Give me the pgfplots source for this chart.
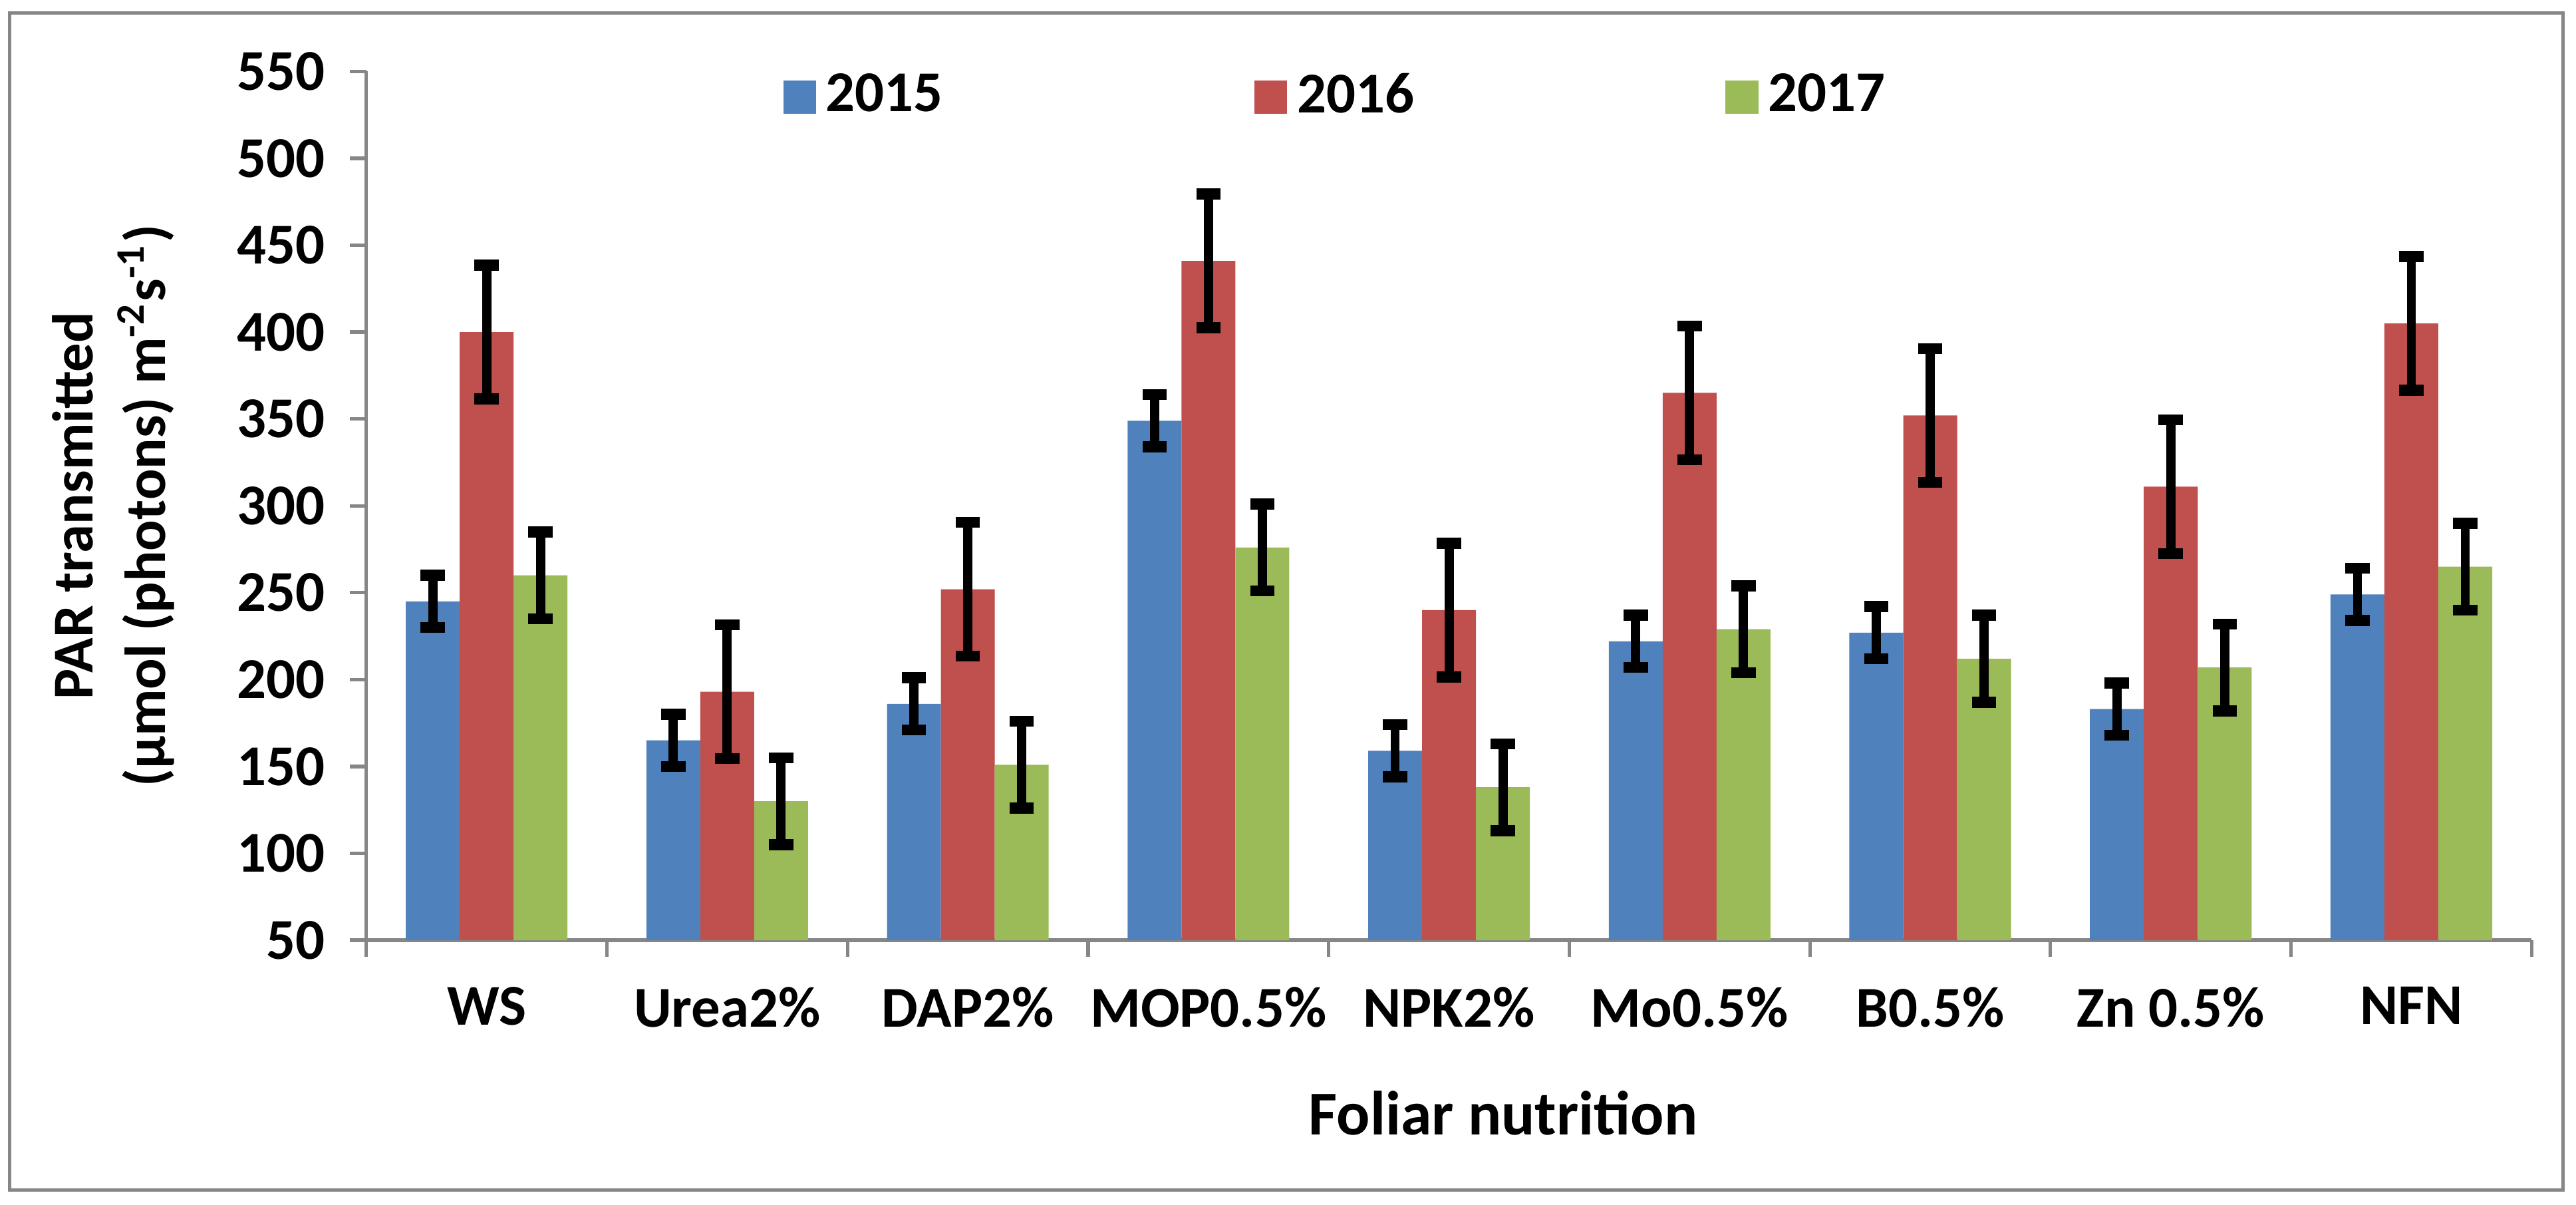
\documentclass[border=0pt]{standalone}
\usepackage{fontspec}
\setmainfont{Carlito}
\usepackage{pgfplots}
\usepackage{pgfplotstable}
\pgfplotsset{compat=1.18}
\usetikzlibrary{calc}

\definecolor{c15}{HTML}{4F81BD}
\definecolor{c16}{HTML}{C0504D}
\definecolor{c17}{HTML}{9BBB59}
\definecolor{axgray}{HTML}{868686}

% value and error per year
\pgfplotstableread{
x y15 e15 y16 e16 y17 e17
0 245 15 400 38.5 260 25
1 165 15 193 38.5 130 25
2 186 15 252 38.5 151 25
3 349 15 441 38.5 276 25
4 159 15 240 38.5 138 25
5 222 15 365 38.5 229 25
6 227 15 352 38.5 212 25
7 183 15 311 38.5 207 25
8 249 15 405 38.5 265 25
}\partable

\begin{document}
\begin{tikzpicture}[font=\fontsize{10}{12.5}\selectfont\bfseries]
\begin{axis}[name=ax,
    scale only axis, width=131.8mm, height=52.86mm,
    xmin=-0.5, xmax=8.5, ymin=50, ymax=550,
    ytick={50,100,...,550},
    axis x line*=bottom, axis y line*=left,
    axis line style={axgray, line width=0.6pt},
    ybar, bar width=0.224,
    xtick={0,...,8},
    xticklabels={WS,Urea2\%,DAP2\%,MOP0.5\%,NPK2\%,Mo0.5\%,B0.5\%,Zn 0.5\%,NFN},
    minor xtick={-0.5,0.5,...,8.5},
    major x tick style={draw=none},
    tick align=outside, major tick length=1mm, minor tick length=1mm,
    every tick/.style={axgray, line width=0.6pt},
    /pgf/number format/assume math mode=true,
    tick label style={font=\fontsize{10}{12}\selectfont\bfseries},
    xticklabel style={yshift=-0.6mm},
    yticklabel style={xshift=-0.3mm},
    legend columns=3,
    legend style={draw=none, fill=none, inner sep=0pt,
        at={(rel axis cs:0.192,0.9705)}, anchor=west,
        nodes={inner xsep=0.6mm, inner ysep=0pt},
        /tikz/every even column/.append style={column sep=18.35mm}},
    legend image code/.code={\fill[#1] (0mm,-1mm) rectangle (2mm,1mm);},
    error bars/y dir=both, error bars/y explicit,
    error bars/error bar style={black, line width=1.6pt},
    error bars/error mark options={black, line width=1.9pt, mark size=0.74mm, rotate=90},
]
\addplot[fill=c15, draw=none, bar shift=-0.224]
    table[x=x, y=y15, y error=e15]{\partable};
\addplot[fill=c16, draw=none, bar shift=0]
    table[x=x, y=y16, y error=e16]{\partable};
\addplot[fill=c17, draw=none, bar shift=0.224]
    table[x=x, y=y17, y error=e17]{\partable};
\legend{2015,2016,2017}
\end{axis}

\node[rotate=90, align=center] at ($(ax.west)+(-15.4mm,0)$)
    {PAR transmitted\\(µmol (photons) m\textsuperscript{-2}s\textsuperscript{-1})};
\node[font=\fontsize{10.8}{13}\selectfont\bfseries] at ($(ax.south west)+(69.2mm,-10.5mm)$) {Foliar nutrition};

\draw[axgray, line width=0.6pt] ($(ax.south west)+(-21.7mm,-15.2mm)$)
    rectangle ($(ax.north east)+(1.9mm,3.55mm)$);
\pgfresetboundingbox
\path[use as bounding box] ($(ax.south west)+(-22.3mm,-16.1mm)$)
    rectangle ($(ax.north east)+(2.7mm,4.35mm)$);
\end{tikzpicture}
\end{document}
